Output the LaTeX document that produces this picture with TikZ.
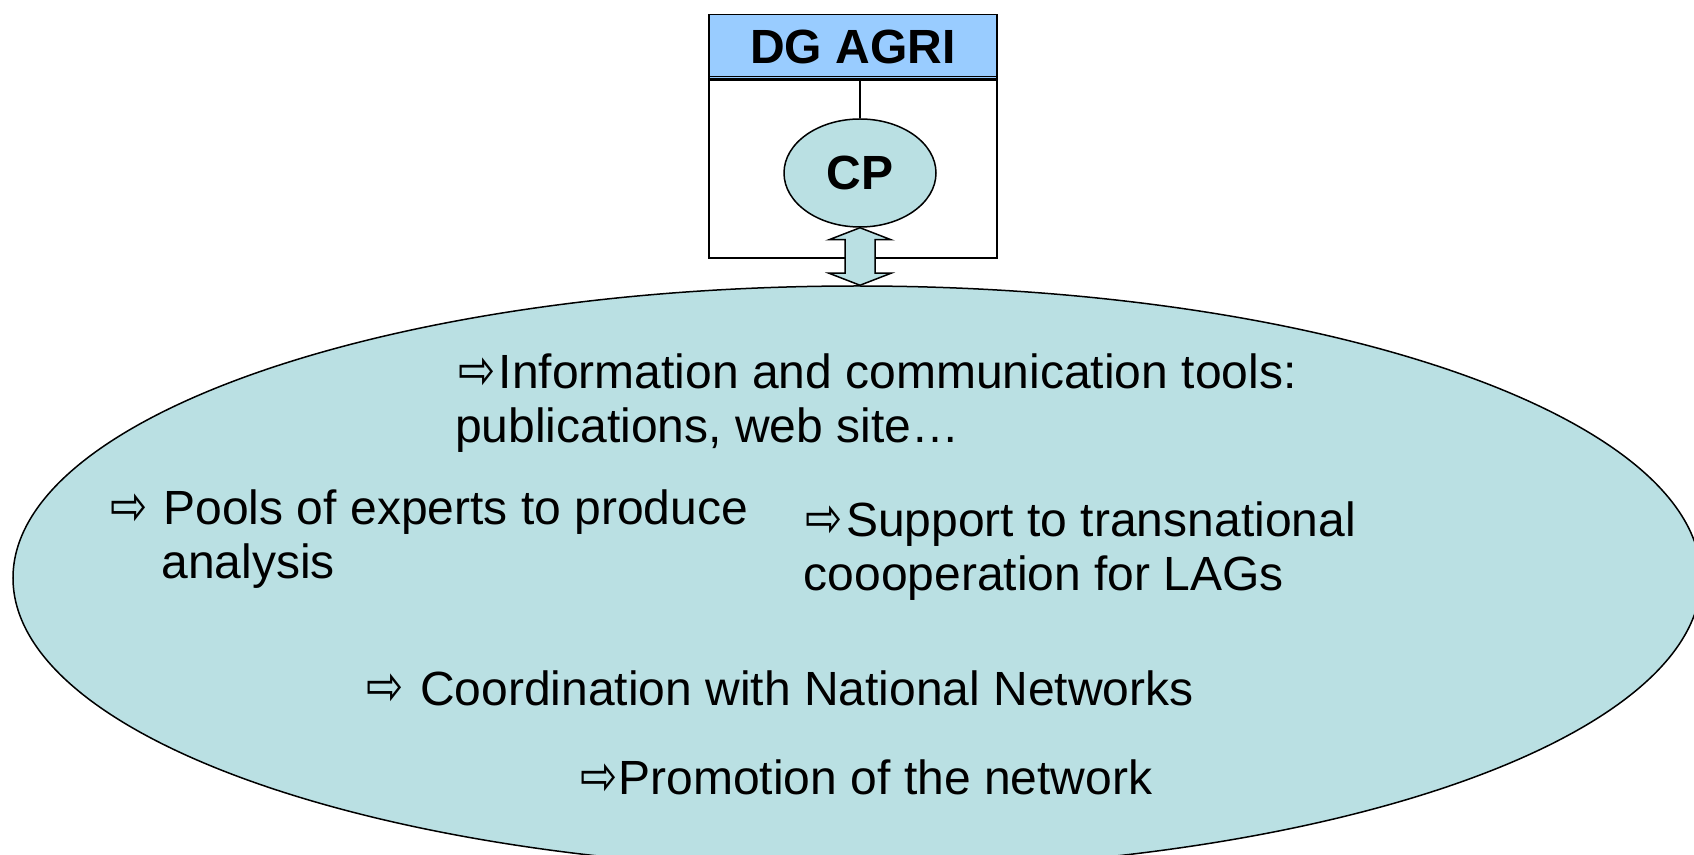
\documentclass[tikz,border=0pt]{standalone}
\usepackage{fontspec}
\setmainfont{Liberation Sans}
\newfontfamily\symfont{DejaVu Sans}
\usetikzlibrary{shapes.geometric}
\definecolor{tealfill}{RGB}{186,224,227}
\definecolor{hdrblue}{RGB}{153,204,255}
\newdimen\glyL \newdimen\glyT \newdimen\glyR \newdimen\glyB
% hollow arrow glyph, ink trimmed to 16.75pt x 14pt, sitting 1.8pt above the baseline
\newcommand\warr[1]{\makebox[#1][l]{\symfont\fontsize{20}{20}\selectfont
  \glyL=\XeTeXglyphbounds1 \XeTeXcharglyph"21E8\relax
  \glyT=\XeTeXglyphbounds2 \XeTeXcharglyph"21E8\relax
  \glyR=\XeTeXglyphbounds3 \XeTeXcharglyph"21E8\relax
  \glyB=\XeTeXglyphbounds4 \XeTeXcharglyph"21E8\relax
  \raisebox{1.8pt}{\resizebox{16.75pt}{14pt}{\raisebox{\glyB}[\dimexpr\glyT+\glyB\relax][0pt]{\kern-\glyL ⇨\kern-\glyR}}}}}
\begin{document}
\begin{tikzpicture}[x=0.5pt,y=-0.5pt,
  bubble/.style={ellipse, draw=black, fill=tealfill, line width=0.75pt, inner sep=0pt},
  item/.style={anchor=base west, inner sep=0pt, font=\fontsize{24}{27}\selectfont},
  boxline/.style={draw=black, line width=0.75pt, inner sep=0pt},
  dblarrow/.style={draw=black, fill=tealfill, line width=0.75pt, line join=miter}]
\useasboundingbox (0,0) rectangle (1694,855);
\clip (0,0) rectangle (1694,855);
\fill[white] (0,0) rectangle (1694,855);
% network ellipse
\node[bubble, minimum width=844pt, minimum height=292pt] (net) at (857,578) {};
% DG AGRI box
\node[boxline, fill=hdrblue, minimum width=144pt, minimum height=32pt, anchor=north west,
      font=\bfseries\fontsize{24}{24}\selectfont] (hdr) at (708,14) {DG AGRI};
\draw[line width=0.6pt] ([yshift=1.6pt]hdr.south west) -- ([yshift=1.6pt]hdr.south east);
\node[boxline, minimum width=144pt, minimum height=89pt, anchor=north west] (body) at (hdr.south west) {};
% CP
\node[bubble, minimum width=76pt, minimum height=54pt, font=\bfseries\fontsize{24}{24}\selectfont] (cp) at (860,173) {CP};
\draw[line width=0.75pt] (hdr.south -| cp.north) -- (cp.north);
% double arrow
\coordinate (T) at (cp.south);
\coordinate (B) at (cp.south |- net.north);
\draw[dblarrow] (T) -- ([shift={(31,12)}]T) -- ([shift={(15,12)}]T) -- ([shift={(15,-12)}]B)
  -- ([shift={(31,-12)}]B) -- (B) -- ([shift={(-31,-12)}]B) -- ([shift={(-15,-12)}]B)
  -- ([shift={(-15,12)}]T) -- ([shift={(-31,12)}]T) -- cycle;
% items
\node[item] (info) at (460,389) {\begin{tabular}[t]{@{}l@{}}\warr{19.2pt}Information and communication tools:\\\hspace{-2.6pt}publications, web site…\end{tabular}};
\node[item] (pools) at (112,525) {\begin{tabular}[t]{@{}l@{}}\warr{25.6pt}Pools of experts to produce\\\hspace{24.6pt}analysis\end{tabular}};
\node[item] (support) at (807,537) {\begin{tabular}[t]{@{}l@{}}\warr{19.4pt}Support to transnational\\\hspace{-1.85pt}coooperation for LAGs\end{tabular}};
\node[item] (coord) at (368,705) {\warr{25.8pt}Coordination with National Networks};
\node[item] (promo) at (582,795) {\warr{18.1pt}Promotion of the network};
\end{tikzpicture}
\end{document}
